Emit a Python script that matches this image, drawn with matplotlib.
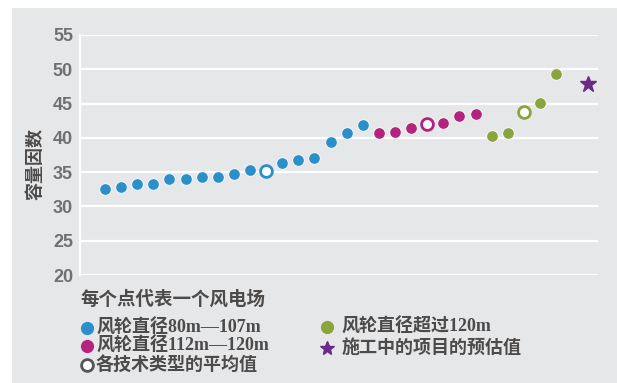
import matplotlib
matplotlib.use("Agg")
import matplotlib.pyplot as plt
from matplotlib.lines import Line2D
from matplotlib.patches import Rectangle

plt.rcParams['font.family'] = ['Noto Sans CJK SC', 'DejaVu Sans']

# Capacity factor of each wind farm, sorted within rotor-diameter group.
# The hollow marker in each group is that group's average.
blue_values = [32.5, 32.8, 33.2, 33.3, 34.0, 34.0, 34.3, 34.3, 34.7, 35.3,
               35.2, 36.4, 36.8, 37.0, 39.4, 40.7, 41.9]
blue_avg_index = 10
magenta_values = [40.7, 40.9, 41.5, 42.0, 42.1, 43.2, 43.5]
magenta_avg_index = 3
green_values = [40.3, 40.7, 43.8, 45.1, 49.3]
green_avg_index = 2
star_value = 47.8

y_ticks = [20, 25, 30, 35, 40, 45, 50, 55]
y_label = "容量因数"
note_text = "每个点代表一个风电场"
legend_labels = ["风轮直径80m—107m", "风轮直径112m—120m", "各技术类型的平均值",
                 "风轮直径超过120m", "施工中的项目的预估值"]

BLUE = "#2b8fca"
MAGENTA = "#b4247f"
GREEN = "#8aa53b"
PURPLE = "#6b2a87"
BG = "#e6e7e8"
TEXT = "#4d4a4a"
TICK = "#707070"
LABEL_FONT = ['Liberation Serif', 'Noto Sans CJK SC']

W, H = 617, 383
fig = plt.figure(figsize=(W / 100, H / 100), dpi=100)
fig.patch.set_facecolor("white")
fig.patches.append(Rectangle((12 / W, 0), 1 - 12 / W, (H - 8) / H,
                             transform=fig.transFigure, facecolor=BG,
                             edgecolor="none", zorder=-10))

ax = fig.add_axes([80 / W, (H - 275) / H, (598 - 80) / W, 240 / H])
ax.set_facecolor(BG)
ax.patch.set_alpha(0)

def draw_group(start, values, avg_idx, color):
    for i, v in enumerate(values):
        x = start + i
        if i == avg_idx:
            ax.plot(x, v, 'o', ms=8.5, mfc="white", mec=color, mew=2.0,
                    zorder=3)
        else:
            ax.plot(x, v, 'o', ms=8.5, mfc=color, mec="#f2f4f6", mew=0.8,
                    zorder=3)
    return start + len(values)

pos = draw_group(0, blue_values, blue_avg_index, BLUE)
pos = draw_group(pos, magenta_values, magenta_avg_index, MAGENTA)
pos = draw_group(pos, green_values, green_avg_index, GREEN)
ax.plot(pos + 1, star_value, '*', ms=12, color=PURPLE, zorder=3)

ax.set_xlim(-1.55, 30.6)
ax.set_ylim(20, 55)
ax.set_yticks(y_ticks)
ax.set_xticks([])
ax.grid(axis='y', color="white", lw=1.6, zorder=1)
ax.set_axisbelow(True)
for s in ["top", "right", "bottom"]:
    ax.spines[s].set_visible(False)
ax.spines["left"].set_color("white")
ax.spines["left"].set_linewidth(1.6)
ax.tick_params(axis='y', length=0, pad=5)
for lab in ax.get_yticklabels():
    lab.set_fontfamily("Liberation Sans")
    lab.set_fontweight("bold")
    lab.set_fontsize(13)
    lab.set_color(TICK)

fig.text(35 / W, 1 - 164 / H, y_label, rotation=90, ha="center", va="center",
         fontsize=13, fontweight="bold", color=TEXT)

fig.text(80 / W, 1 - 299 / H, note_text, ha="left", va="center",
         fontsize=13.3, fontweight="bold", color=TEXT)

def legend_row(xm, xt, y, label, marker, color, hollow=False, ms=8.5):
    yf = 1 - y / H
    if hollow:
        m = Line2D([xm / W], [yf], marker=marker, ms=ms, mfc="white",
                   mec=color, mew=2.0, ls="none", transform=fig.transFigure)
    else:
        m = Line2D([xm / W], [yf], marker=marker, ms=ms, mfc=color,
                   mec=color, ls="none", transform=fig.transFigure)
    fig.add_artist(m)
    fig.text(xt / W, yf, label, ha="left", va="center", fontsize=13,
             fontweight="bold", color=TEXT, family=LABEL_FONT)

legend_row(87, 96, 328, legend_labels[0], 'o', BLUE)
legend_row(87, 96, 346, legend_labels[1], 'o', MAGENTA)
legend_row(87, 96, 365, legend_labels[2], 'o', "#555555", hollow=True)
legend_row(327, 342, 327, legend_labels[3], 'o', GREEN)
legend_row(327, 342, 348, legend_labels[4], '*', PURPLE, ms=10)

fig.savefig("out.png", dpi=100)
